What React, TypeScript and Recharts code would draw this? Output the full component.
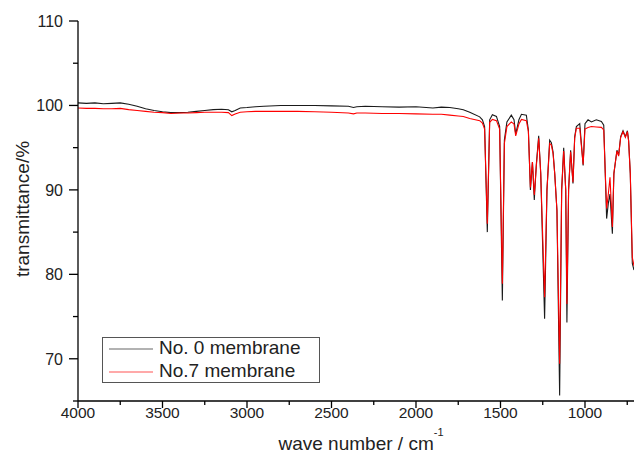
import { LineChart, Line, XAxis, YAxis, Legend } from 'recharts'

// wavenumber (cm-1), descending
const WAVE = [
  4000, 3950, 3900, 3850, 3800, 3750, 3700, 3650, 3600, 3550, 3500, 3450, 3400, 3350, 3300, 3250,
  3200, 3150, 3110, 3090, 3070, 3040, 3000, 2950, 2900, 2800, 2700, 2600, 2500, 2400, 2370, 2350,
  2300, 2200, 2100, 2000, 1900, 1850, 1800, 1750, 1720, 1682, 1623, 1607, 1594, 1578, 1564, 1548,
  1524, 1505, 1489, 1477, 1462, 1436, 1420, 1410, 1391, 1376, 1347, 1335, 1323, 1311, 1300, 1288,
  1274, 1262, 1239, 1225, 1209, 1199, 1189, 1179, 1166, 1150, 1138, 1126, 1114, 1107, 1097, 1085,
  1071, 1061, 1051, 1031, 1011, 1000, 982, 962, 933, 903, 889, 880, 872, 862, 852, 838,
  829, 811, 801, 789, 775, 761, 749, 742, 732, 720, 710,
]

const MEMBRANE_0 = [
  100.3, 100.25, 100.3, 100.2, 100.25, 100.3, 100.15, 99.9, 99.6, 99.4, 99.25, 99.15, 99.15, 99.2, 99.3, 99.4,
  99.5, 99.55, 99.5, 99.25, 99.4, 99.7, 99.75, 99.85, 99.9, 100.0, 100.0, 100.0, 99.95, 99.9, 99.75, 99.85,
  99.9, 99.85, 99.8, 99.85, 99.7, 99.8, 99.75, 99.6, 99.5, 99.2, 98.65, 98.3, 97.5, 85.0, 98.3, 98.9,
  98.7, 97.5, 76.9, 95.9, 98.05, 98.85, 98.3, 96.6, 98.3, 98.95, 98.85, 97.1, 90.0, 93.3, 88.8, 93.0,
  96.4, 92.0, 74.75, 90.0, 95.9, 95.6, 94.5, 91.9, 87.6, 65.65, 90.0, 95.0, 90.0, 74.3, 90.0, 94.7,
  90.75, 96.3, 97.5, 97.85, 92.9, 97.85, 98.3, 98.05, 98.3, 98.1, 97.65, 91.9, 86.6, 88.4, 89.5, 84.8,
  91.9, 94.7, 94.1, 96.3, 97.0, 96.3, 97.0, 95.9, 91.9, 81.3, 80.5,
]

const MEMBRANE_7 = [
  99.7, 99.65, 99.65, 99.6, 99.6, 99.65, 99.5, 99.4, 99.3, 99.2, 99.15, 99.05, 99.1, 99.1, 99.15, 99.2,
  99.2, 99.2, 99.15, 98.8, 99.0, 99.2, 99.25, 99.3, 99.3, 99.3, 99.3, 99.25, 99.2, 99.1, 99.0, 99.1,
  99.1, 99.05, 99.05, 99.0, 98.95, 98.95, 98.85, 98.75, 98.7, 98.45, 98.2, 97.9, 97.2, 86.0, 98.0, 98.35,
  98.2, 97.2, 78.9, 95.5, 97.5, 98.05, 97.8, 96.4, 97.8, 98.35, 98.2, 96.9, 90.3, 93.3, 89.4, 92.8,
  96.1, 92.0, 77.3, 90.0, 95.5, 95.3, 94.3, 91.9, 87.6, 69.4, 90.0, 94.6, 90.0, 76.5, 90.0, 94.5,
  90.9, 96.1, 97.3, 97.3, 93.0, 97.2, 97.4, 97.5, 97.45, 97.4, 97.1, 92.0, 87.8, 89.5, 91.5, 85.6,
  92.0, 94.6, 94.0, 96.2, 96.9, 96.2, 96.9, 95.8, 92.0, 82.0, 81.0,
]

const X_TICKS = [4000, 3750, 3500, 3250, 3000, 2750, 2500, 2250, 2000, 1750, 1500, 1250, 1000, 750]
const Y_TICKS = [65, 70, 75, 80, 85, 90, 95, 100, 105, 110]

const SERIES = [
  { key: 'm0', name: 'No. 0 membrane', color: '#1a1a1a', legendColor: '#666' },
  { key: 'm7', name: 'No.7 membrane', color: '#ff0000', legendColor: '#ff5555' },
]

const data = WAVE.map((w, i) => ({ w, m0: MEMBRANE_0[i], m7: MEMBRANE_7[i] }))

const FONT = '"Liberation Sans", Arial, sans-serif'

function XTick({ x, y, payload }: any) {
  const major = payload.value % 500 === 0
  return (
    <g>
      <line x1={x} y1={y} x2={x} y2={y + (major ? 7 : 4)} stroke="#000" strokeWidth={1.3} />
      {major && (
        <text x={x} y={y + 17} textAnchor="middle" fontSize={15.5} fill="#222" fontFamily={FONT}>
          {payload.value}
        </text>
      )}
    </g>
  )
}

function YTick({ x, y, payload }: any) {
  const major = payload.value % 10 === 0
  return (
    <g>
      <line x1={x} y1={y} x2={x - (major ? 9 : 5)} y2={y} stroke="#000" strokeWidth={1.3} />
      {major && (
        <text x={x - 15} y={y} dy="0.36em" textAnchor="end" fontSize={16} fill="#222" fontFamily={FONT}>
          {payload.value}
        </text>
      )}
    </g>
  )
}

function LegendBox() {
  return (
    <div
      style={{
        position: 'relative',
        width: 218,
        height: 46,
        boxSizing: 'border-box',
        border: '1px solid #555',
        background: '#fff',
        fontFamily: FONT,
        fontSize: 19,
        color: '#222',
      }}
    >
      {SERIES.map((s, i) => (
        <div key={s.key} style={{ position: 'absolute', left: 0, top: 1 + i * 23, height: 22, width: '100%' }}>
          <svg width={52} height={22} style={{ position: 'absolute', left: 0, top: 0 }}>
            <line x1={6} y1={10} x2={50} y2={10} stroke={s.legendColor} strokeWidth={1.2} />
          </svg>
          <span style={{ position: 'absolute', left: 56, top: -2, lineHeight: '22px', whiteSpace: 'nowrap' }}>{s.name}</span>
        </div>
      ))}
    </div>
  )
}

export default function App() {
  return (
    <div style={{ position: 'absolute', left: 0, top: 0, background: '#fff' }}>
      <LineChart width={634} height={459} data={data} margin={{ top: 21, right: 0, bottom: 0, left: 0 }}>
        <XAxis
          dataKey="w"
          type="number"
          domain={[710, 4000]}
          reversed
          allowDataOverflow
          ticks={X_TICKS}
          interval={0}
          height={58}
          tickSize={0}
          tickMargin={0}
          tickLine={false}
          axisLine={{ stroke: '#000', strokeWidth: 1.3 }}
          tick={<XTick />}
          label={{
            content: () => (
              <text x={361} y={450} textAnchor="middle" fontSize={19} fill="#222" fontFamily={FONT}>
                wave number / cm
                <tspan dy={-14} fontSize={11}>-1</tspan>
              </text>
            ),
          }}
        />
        <YAxis
          type="number"
          domain={[65, 110]}
          allowDataOverflow
          ticks={Y_TICKS}
          interval={0}
          width={78}
          tickSize={0}
          tickMargin={0}
          tickLine={false}
          axisLine={{ stroke: '#000', strokeWidth: 1.3 }}
          tick={<YTick />}
          label={{
            content: () => (
              <text
                x={22}
                y={209}
                transform="rotate(-90, 22, 209)"
                textAnchor="middle"
                dominantBaseline="central"
                fontSize={19}
                fill="#222"
                fontFamily={FONT}
              >
                transmittance/%
              </text>
            ),
          }}
        />
        <Legend
          layout="vertical"
          align="center"
          verticalAlign="middle"
          content={() => <LegendBox />}
          wrapperStyle={{ position: 'absolute', left: 102, top: 337, width: 218, height: 46 }}
        />
        {SERIES.map((s) => (
          <Line
            key={s.key}
            dataKey={s.key}
            name={s.name}
            type="linear"
            stroke={s.color}
            strokeWidth={1.1}
            dot={false}
            activeDot={false}
            isAnimationActive={false}
          />
        ))}
      </LineChart>
    </div>
  )
}
